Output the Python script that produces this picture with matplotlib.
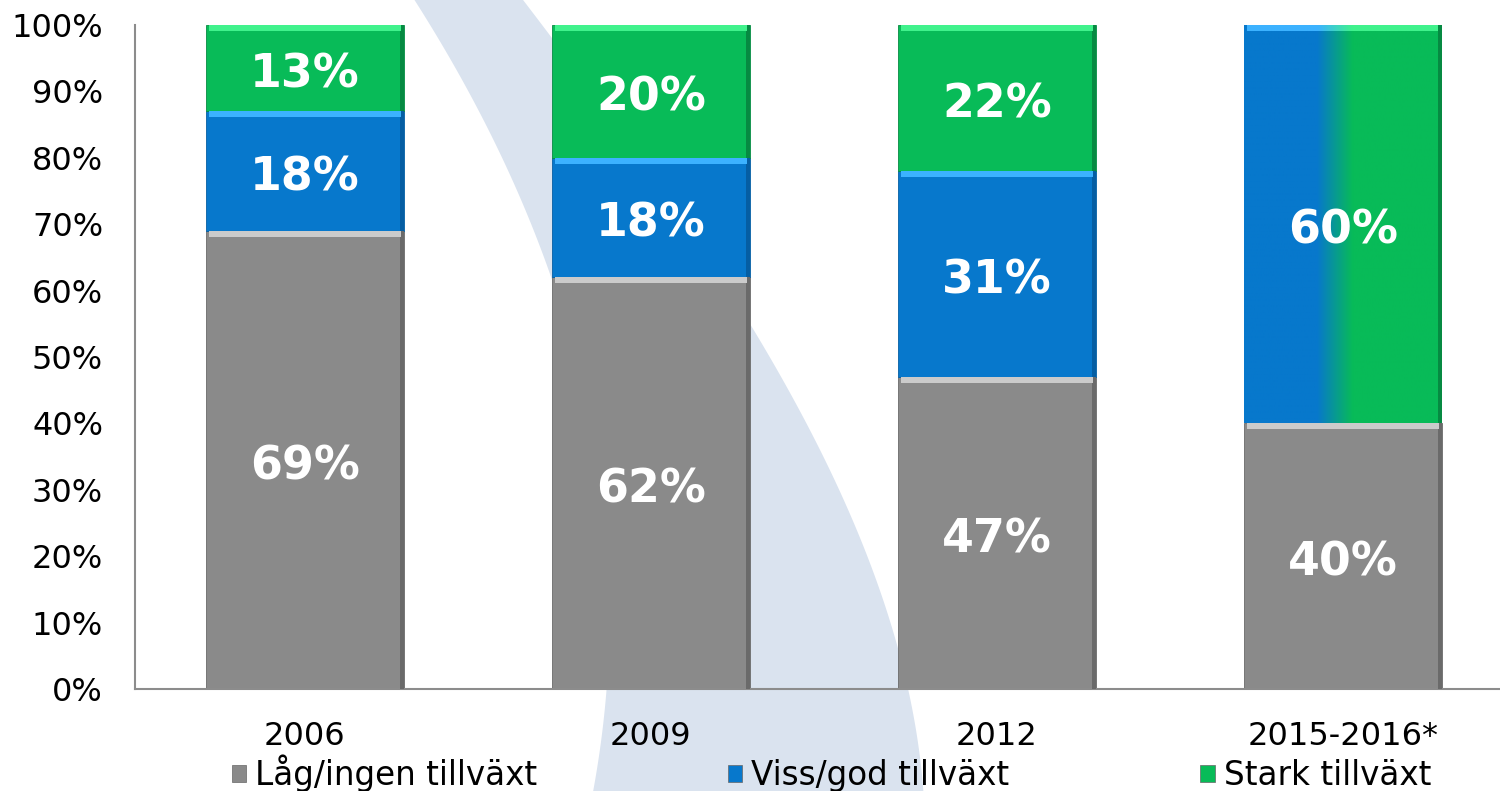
import numpy as np
import matplotlib
matplotlib.use('Agg')
import matplotlib.pyplot as plt
import matplotlib.transforms as mtransforms
from matplotlib.patches import Polygon, Patch
from matplotlib.colors import to_rgb

# data (andel företag per tillväxtgrupp)
years = ['2006', '2009', '2012', '2015-2016*']
lag = [69, 62, 47, 40]
viss = [18, 18, 31, 0]
stark = [13, 20, 22, 0]
viss_stark = [0, 0, 0, 60]   # 2015-2016: viss/god + stark tillsammans
serier = ['Låg/ingen tillväxt', 'Viss/god tillväxt', 'Stark tillväxt']

GRA, BLA, GRON = '#8a8a8a', '#0778cc', '#08bb58'
GRA_L, BLA_L, GRON_L = '#cbcbcb', '#3cb2ff', '#40f28c'
GRA_M, BLA_M, GRON_M = '#6a6a6a', '#055ea3', '#068a42'
BAKGRUND = '#dae3ef'

plt.rcParams['font.family'] = ['DejaVu Sans']

fig = plt.figure(figsize=(15, 7.91), dpi=100)
ax = fig.add_axes([0.09, 0.129, 0.91, 0.8394])
ax.set_facecolor('none')
ax.set_zorder(2)

# ljusblå "swoosh" i bakgrunden (figurpixlar), utjämnade kanter
vy = np.array([-5, 125, 260, 400, 540, 640, 714, 796])
vx = np.array([413, 480, 552, 585, 603, 610, 607, 591])
hy = np.array([-5, 160, 328, 440, 545, 633, 721, 796])
hx = np.array([520, 640, 750, 821, 863, 891, 912, 926])
yy = np.linspace(-5, 796, 120)
lx = np.polyval(np.polyfit(vy, vx, 3), yy)
rx = np.polyval(np.polyfit(hy, hx, 3), yy)
pts = [(a / 1500, 1 - b / 791) for a, b in zip(lx, yy)] + \
      [(a / 1500, 1 - b / 791) for a, b in zip(rx[::-1], yy[::-1])]
fig.patches.append(Polygon(pts, closed=True, transform=fig.transFigure,
                           facecolor=BAKGRUND, edgecolor='none', zorder=-5))

x = np.arange(len(years))
w = 0.572
bev = 0.9   # ljus överkant (procentenheter)
ds = 0.012  # mörk högerkant (stapelbredd)

lag = np.array(lag, float)
viss = np.array(viss, float)
stark = np.array(stark, float)
viss_stark = np.array(viss_stark, float)

ned = mtransforms.offset_copy(ax.transData, fig=fig, x=0, y=-5, units='points')


def gradient(ax, patch, c1, c2, t0=0.37, t1=0.55):
    x0, y0 = patch.get_x(), patch.get_y()
    pw, ph = patch.get_width(), patch.get_height()
    t = np.linspace(0, 1, 400)
    f = np.clip((t - t0) / (t1 - t0), 0, 1)
    rgb = (1 - f)[:, None] * np.array(to_rgb(c1)) + f[:, None] * np.array(to_rgb(c2))
    im = ax.imshow(rgb[None, :, :], extent=[x0, x0 + pw, y0, y0 + ph],
                   aspect='auto', interpolation='bilinear', zorder=2)
    im.set_clip_path(patch)


segment = [(lag, np.zeros(4), GRA, GRA_L, GRA_M),
           (viss, lag, BLA, BLA_L, BLA_M),
           (stark, lag + viss, GRON, GRON_L, GRON_M)]
for vals, bottom, c, cl, cm in segment:
    m = vals > 0
    ax.bar(x[m], vals[m], bottom=bottom[m], width=w, color=c, zorder=2,
           edgecolor=cm, linewidth=0.6)
    ax.bar(x[m] + w / 2 - ds / 2, vals[m], bottom=bottom[m], width=ds,
           color=cm, zorder=3, linewidth=0)
    ax.bar(x[m], bev, bottom=(bottom + vals - bev)[m], width=w * 0.97,
           color=cl, zorder=3, linewidth=0)
    for xi, v, b in zip(x[m], vals[m], bottom[m]):
        ax.text(xi, b + v / 2, f'{v:.0f}%', ha='center', va='center',
                color='white', fontsize=33, fontweight='bold', zorder=5,
                transform=ned)

# kombinerad stapel med övergång blått -> grönt
m = viss_stark > 0
for xi, v, b in zip(x[m], viss_stark[m], lag[m]):
    kropp = ax.bar(xi, v, bottom=b, width=w, color='none', zorder=2,
                   edgecolor='none')[0]
    gradient(ax, kropp, BLA, GRON)
    ax.bar(xi + w / 2 - ds / 2, v, bottom=b, width=ds, color=GRON_M,
           zorder=3, linewidth=0)
    kant = ax.bar(xi, bev, bottom=b + v - bev, width=w * 0.97, color='none',
                  zorder=3, edgecolor='none')[0]
    gradient(ax, kant, BLA_L, GRON_L)
    ax.text(xi, b + v / 2, f'{v:.0f}%', ha='center', va='center',
            color='white', fontsize=33, fontweight='bold', zorder=5,
            transform=ned)

ax.set_xlim(-0.491, 3.454)
ax.set_ylim(0, 100)
ax.set_xticks(x)
ax.set_xticklabels(years)
ax.set_yticks(np.arange(0, 101, 10))
ax.set_yticklabels([f'{v}%' for v in range(0, 101, 10)])
ax.tick_params(axis='both', length=0, labelsize=23, colors='black')
ax.tick_params(axis='x', pad=23)
ax.tick_params(axis='y', pad=23)
for s in ['top', 'right']:
    ax.spines[s].set_visible(False)
for s in ['left', 'bottom']:
    ax.spines[s].set_color('#8c8c8c')
    ax.spines[s].set_linewidth(1.5)

handles = [Patch(facecolor=c, edgecolor='#666666', linewidth=0.5)
           for c in [GRA, BLA, GRON]]
fig.legend(handles, serier, loc='center left', ncol=3, frameon=False,
           bbox_to_anchor=(232 / 1500, 1 - 773 / 791), fontsize=23.5,
           handlelength=0.43, handleheight=0.43, handletextpad=0.28,
           columnspacing=5.85, borderpad=0, borderaxespad=0)

fig.savefig('out.png', dpi=100)
